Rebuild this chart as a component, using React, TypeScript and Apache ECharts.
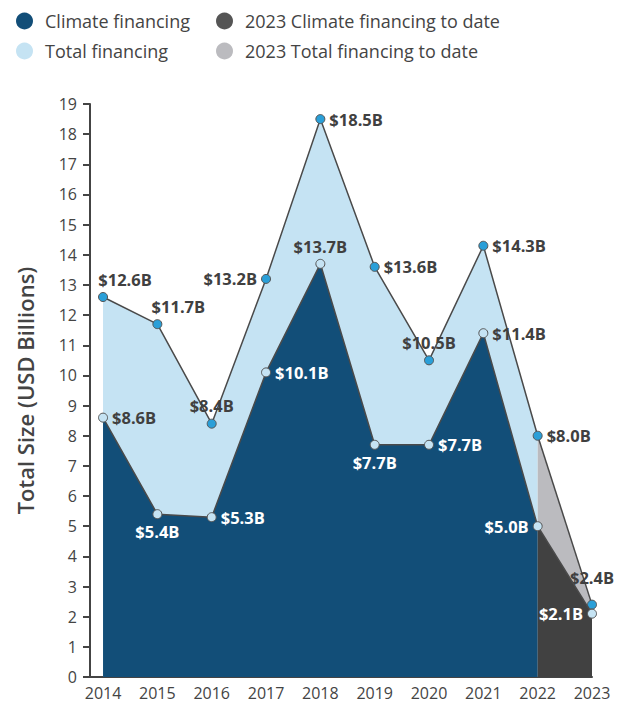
import React, { useEffect, useRef } from "react";
import * as echarts from "echarts";

const years = [2014, 2015, 2016, 2017, 2018, 2019, 2020, 2021, 2022, 2023];
const totalFinancing = [12.6, 11.7, 8.4, 13.2, 18.5, 13.6, 10.5, 14.3, 8.0, 2.4];
const climateFinancing = [8.6, 5.4, 5.3, 10.1, 13.7, 7.7, 7.7, 11.4, 5.0, 2.1];
const seriesNames = [
  "Climate financing",
  "Total financing",
  "2023 Climate financing to date",
  "2023 Total financing to date",
];
const yAxisTitle = "Total Size (USD Billions)";

// label placement (style, not data)
const DARK = "#404040";
const WHITE = "#ffffff";
const totalLabelStyle: [string, number[], string][] = [
  ["top", [22, 0], DARK],
  ["top", [21, 0], DARK],
  ["top", [0, -1], DARK],
  ["left", [0, 0], DARK],
  ["right", [0, 0], DARK],
  ["right", [0, 0], DARK],
  ["top", [0, 0], DARK],
  ["right", [0, 0], DARK],
  ["right", [0, 0], DARK],
  ["top", [0, -10], DARK],
];
const climateLabelStyle: [string, number[], string][] = [
  ["right", [0, 0], DARK],
  ["bottom", [0, 0], WHITE],
  ["right", [0, 0], WHITE],
  ["right", [0, 0], WHITE],
  ["top", [0, 0], DARK],
  ["bottom", [0, 0], WHITE],
  ["right", [0, 0], WHITE],
  ["right", [0, 0], DARK],
  ["left", [0, 0], WHITE],
  ["left", [0, 0], WHITE],
];

const FONT = "'Open Sans', 'Noto Sans', sans-serif";
const C_DARKBLUE = "#124e78";
const C_LIGHTBLUE = "#c5e3f3";
const C_MARKER = "#2a9fd8";
const C_DARKGRAY = "#414141";
const C_LIGHTGRAY = "#bbbbbf";
const C_LINE = "#4a4a4a";

function makeItems(values: number[], styles: [string, number[], string][], from: number, to: number, hideFirstSymbol: boolean) {
  const out: any[] = [];
  for (let i = from; i <= to; i++) {
    const [pos, off, color] = styles[i];
    const item: any = {
      value: [years[i], values[i]],
      label: { position: pos, offset: off, color },
    };
    if (hideFirstSymbol && i === from) {
      item.symbol = "none";
      item.label = { show: false };
    }
    out.push(item);
  }
  return out;
}

export default function App() {
  const ref = useRef<HTMLDivElement>(null);
  useEffect(() => {
    if (!ref.current) return;
    const chart = echarts.init(ref.current, null, { renderer: "svg" });
    const last = years.length - 1;
    const baseSeries = (name: string, data: any[], area: string, markerColor: string, z: number) => ({
      name,
      type: "line",
      data,
      z,
      symbol: "circle",
      symbolSize: 9,
      showAllSymbol: true,
      lineStyle: { color: C_LINE, width: 1.5 },
      itemStyle: { color: markerColor, borderColor: "#555555", borderWidth: 1 },
      areaStyle: { color: area, opacity: 1 },
      label: {
        show: true,
        fontFamily: FONT,
        fontSize: 16.5,
        fontWeight: "bold",
        distance: 4,
        formatter: (p: any) => "$" + Number(p.value[1]).toFixed(1) + "B",
      },
      emphasis: { disabled: true },
    });
    const legendItem = (name: string, color: string, left: number, top: number) => ({
      left,
      top,
      padding: 0,
      itemWidth: 17,
      itemHeight: 17,
      icon: "circle",
      selectedMode: false,
      textStyle: { fontFamily: FONT, fontSize: 18, color: "#444444", padding: [0, 0, 0, 7] },
      data: [{ name, icon: "circle", itemStyle: { color, borderWidth: 0 } }],
    });
    chart.setOption({
      animation: false,
      backgroundColor: "#ffffff",
      textStyle: { fontFamily: FONT },
      legend: [
        legendItem(seriesNames[0], C_DARKBLUE, 16, 12),
        legendItem(seriesNames[1], C_LIGHTBLUE, 16, 42),
        legendItem(seriesNames[2], "#555555", 216, 12),
        legendItem(seriesNames[3], C_LIGHTGRAY, 216, 42),
      ],
      grid: { left: 90, right: 29, top: 104, bottom: 28, containLabel: false },
      xAxis: {
        type: "value",
        min: 2013.76,
        max: 2023,
        minInterval: 1,
        maxInterval: 1,
        splitLine: { show: false },
        axisTick: { show: false },
        axisLine: { show: true, lineStyle: { color: "#444444", width: 2 } },
        axisLabel: {
          fontFamily: FONT,
          fontSize: 16,
          color: "#444444",
          margin: 8,
          formatter: (v: number) => (Number.isInteger(v) ? String(v) : ""),
        },
      },
      yAxis: {
        type: "value",
        min: 0,
        max: 19,
        interval: 1,
        name: yAxisTitle,
        nameLocation: "middle",
        nameGap: 54,
        nameTextStyle: { fontFamily: FONT, fontSize: 22, fontWeight: 600, color: "#444444" },
        splitLine: { show: false },
        axisLine: { show: true, lineStyle: { color: "#444444", width: 2 } },
        axisTick: { show: true, length: 7, lineStyle: { color: "#444444", width: 2 } },
        axisLabel: { fontFamily: FONT, fontSize: 16, color: "#444444", margin: 13 },
      },
      series: [
        baseSeries(seriesNames[1], makeItems(totalFinancing, totalLabelStyle, 0, last - 1, false), C_LIGHTBLUE, C_MARKER, 2),
        baseSeries(seriesNames[3], makeItems(totalFinancing, totalLabelStyle, last - 1, last, true), C_LIGHTGRAY, C_MARKER, 2),
        baseSeries(seriesNames[0], makeItems(climateFinancing, climateLabelStyle, 0, last - 1, false), C_DARKBLUE, C_LIGHTBLUE, 3),
        baseSeries(seriesNames[2], makeItems(climateFinancing, climateLabelStyle, last - 1, last, true), C_DARKGRAY, C_LIGHTBLUE, 3),
      ],
    });
    return () => chart.dispose();
  }, []);
  return (
    <div
      ref={ref}
      style={{ position: "absolute", left: 0, top: 0, width: 621, height: 705 }}
    />
  );
}
